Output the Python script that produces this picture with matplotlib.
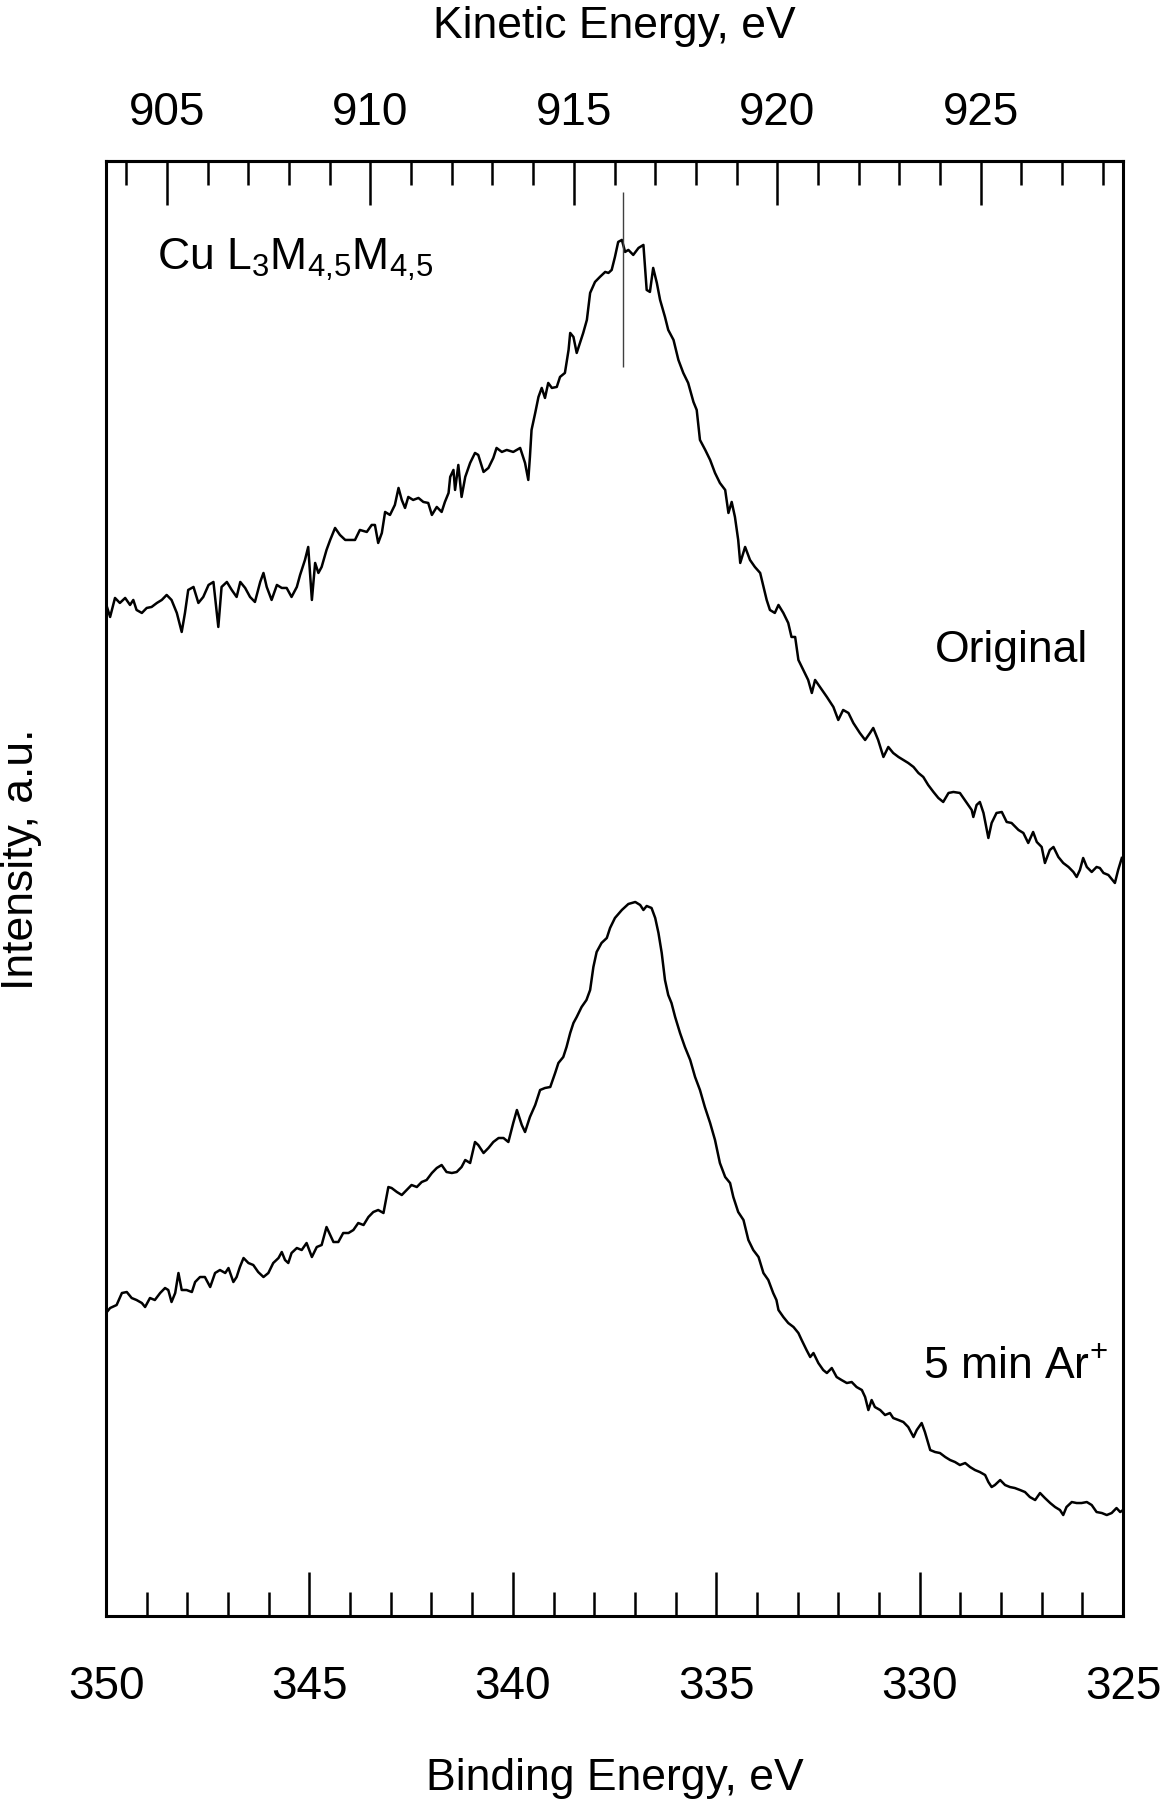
import numpy as np
import matplotlib.pyplot as plt
from matplotlib.ticker import MultipleLocator, FixedLocator

plt.rcParams.update({
    "font.family": ["Liberation Sans", "DejaVu Sans"],
    "mathtext.default": "regular",
    "font.size": 32,
})

# --- Cu L3M45M45 Auger spectra (binding energy scale, Mg Ka) ---
# original surface
be_original = [
    350.00, 349.90, 349.78, 349.66, 349.53, 349.41, 349.33, 349.25, 349.12, 349.00,
    348.88, 348.75, 348.63, 348.51, 348.39, 348.26, 348.14, 348.06, 347.98, 347.85,
    347.73, 347.61, 347.48, 347.36, 347.24, 347.16, 347.03, 346.91, 346.79, 346.70,
    346.58, 346.46, 346.34, 346.21, 346.13, 346.05, 345.93, 345.80, 345.68, 345.56,
    345.44, 345.31, 345.23, 345.11, 345.03, 344.94, 344.86, 344.78, 344.70, 344.58,
    344.49, 344.37, 344.25, 344.12, 344.00, 343.88, 343.76, 343.59, 343.47, 343.39,
    343.31, 343.22, 343.14, 343.02, 342.90, 342.81, 342.73, 342.65, 342.57, 342.45,
    342.32, 342.20, 342.08, 341.99, 341.87, 341.75, 341.67, 341.58, 341.54, 341.46,
    341.42, 341.34, 341.26, 341.17, 341.05, 340.93, 340.85, 340.72, 340.60, 340.48,
    340.40, 340.27, 340.15, 339.99, 339.82,
    339.70, 339.62, 339.58, 339.54, 339.45, 339.37, 339.29, 339.21, 339.13, 339.04,
    338.92, 338.84, 338.72, 338.63, 338.59, 338.51, 338.43, 338.35, 338.27, 338.18,
    338.10, 337.98, 337.86, 337.73, 337.65, 337.57, 337.49, 337.41, 337.32, 337.24,
    337.16, 337.04, 336.91, 336.79, 336.71, 336.63, 336.55, 336.46, 336.38, 336.26,
    336.18, 336.05, 335.93, 335.81, 335.69, 335.56, 335.48, 335.40, 335.27, 335.15,
    335.03, 334.91, 334.78, 334.70, 334.62, 334.54, 334.46, 334.41, 334.29, 334.17,
    334.05, 333.92, 333.80, 333.76,
    333.68, 333.56, 333.47, 333.35, 333.23, 333.15, 333.06, 332.98, 332.86, 332.74,
    332.65, 332.57, 332.45, 332.28, 332.12, 332.00, 331.88, 331.75, 331.63, 331.47,
    331.34, 331.22, 331.14, 331.02, 330.89, 330.77, 330.65, 330.52, 330.40, 330.28,
    330.15, 330.03, 329.91, 329.79, 329.66, 329.54, 329.42, 329.29, 329.17, 329.01,
    328.84, 328.72, 328.68, 328.60, 328.52, 328.43, 328.31, 328.23, 328.11, 327.98,
    327.86, 327.74, 327.57, 327.45, 327.33, 327.21, 327.12, 327.00, 326.92, 326.80,
    326.71, 326.59, 326.47, 326.34, 326.22, 326.14, 326.06, 325.98, 325.89, 325.77,
    325.65, 325.57, 325.48, 325.36, 325.28, 325.20, 325.12, 325.03,
]
counts_original = [
    1012, 999, 1018, 1013, 1018, 1011, 1016, 1006, 1003, 1008,
    1009, 1013, 1016, 1021, 1016, 1003, 984, 1003, 1026, 1029,
    1013, 1019, 1031, 1034, 989, 1029, 1034, 1026, 1019, 1034,
    1028, 1019, 1014, 1034, 1043, 1029, 1016, 1031, 1028, 1028,
    1019, 1029, 1041, 1056, 1069, 1016, 1053, 1043, 1049, 1066,
    1076, 1088, 1081, 1076, 1076, 1076, 1086, 1084, 1091, 1091,
    1073, 1083, 1104, 1101, 1111, 1128, 1116, 1108, 1119, 1116,
    1118, 1114, 1113, 1101, 1109, 1104, 1114, 1123, 1139, 1146,
    1126, 1151, 1119, 1139, 1153, 1163, 1161, 1144, 1148, 1158,
    1168, 1164, 1166, 1164, 1168,
    1153, 1136, 1159, 1186, 1203, 1219, 1228, 1218, 1233, 1228,
    1229, 1239, 1243, 1266, 1283, 1279, 1263, 1273, 1283, 1296,
    1323, 1334, 1339, 1344, 1343, 1346, 1359, 1374, 1376, 1364,
    1366, 1361, 1368, 1371, 1326, 1324, 1348, 1333, 1316, 1299,
    1286, 1276, 1256, 1243, 1233, 1214, 1206, 1176, 1166, 1156,
    1143, 1133, 1126, 1103, 1114, 1099, 1076, 1053, 1069, 1056,
    1049, 1043, 1023, 1016,
    1006, 1003, 1011, 1003, 993, 979, 979, 956, 946, 936,
    923, 936, 929, 919, 909, 896, 906, 903, 893, 883,
    876, 883, 888, 876, 859, 869, 863, 859, 856, 853,
    849, 843, 839, 831, 824, 818, 814, 823, 824, 823,
    813, 806, 799, 811, 814, 803, 778, 793, 803, 804,
    794, 793, 786, 783, 773, 784, 774, 769, 753, 766,
    769, 759, 753, 749, 744, 739, 746, 758, 749, 744,
    749, 748, 743, 741, 737, 733, 746, 758,
]

# after 5 min Ar+ sputtering
be_sputtered = [
    350.00, 349.90, 349.74, 349.61, 349.49, 349.37, 349.25, 349.12, 349.04, 348.92,
    348.80, 348.67, 348.55, 348.47, 348.39, 348.30, 348.22, 348.14, 348.02, 347.89,
    347.81, 347.69, 347.57, 347.44, 347.32, 347.20, 347.07, 346.99, 346.87, 346.79,
    346.71, 346.62, 346.50, 346.38, 346.26, 346.13, 346.01, 345.89, 345.76, 345.68,
    345.60, 345.52, 345.44, 345.31, 345.19, 345.07, 344.94, 344.82, 344.70, 344.58,
    344.49, 344.41, 344.29, 344.17, 344.04, 343.92, 343.80, 343.67, 343.55, 343.43,
    343.31, 343.18, 343.06, 342.98, 342.85, 342.73, 342.61, 342.49, 342.36, 342.24,
    342.12, 341.99, 341.87, 341.75, 341.63, 341.50, 341.38, 341.26, 341.17, 341.05,
    340.93, 340.85, 340.72, 340.60, 340.48, 340.35, 340.23, 340.11, 339.99, 339.90,
    339.78, 339.70, 339.58, 339.45, 339.33, 339.21, 339.08, 338.96, 338.88,
    338.76, 338.68, 338.59, 338.51, 338.43, 338.31, 338.19, 338.10, 338.02, 337.94,
    337.82, 337.69, 337.61, 337.49, 337.32, 337.16, 336.99, 336.87, 336.79, 336.71,
    336.59, 336.50, 336.42, 336.34, 336.26, 336.18, 336.10, 336.01, 335.89, 335.77,
    335.64, 335.52, 335.40, 335.28, 335.15, 335.03, 334.91, 334.78, 334.66, 334.58,
    334.46, 334.33, 334.21, 334.09, 333.96, 333.84, 333.72, 333.60, 333.52,
    333.47, 333.35, 333.23, 333.10, 332.98, 332.90, 332.78, 332.69, 332.61, 332.49,
    332.37, 332.28, 332.16, 332.04, 331.92, 331.79, 331.67, 331.55, 331.42, 331.34,
    331.26, 331.18, 331.10, 330.97, 330.85, 330.73, 330.65, 330.52, 330.40, 330.28,
    330.15, 330.07, 329.95, 329.87, 329.74, 329.62, 329.50, 329.37, 329.25, 329.13,
    329.01, 328.88, 328.76, 328.64, 328.52, 328.39, 328.31, 328.23, 328.15, 328.02,
    327.90, 327.78, 327.66, 327.53, 327.41, 327.29, 327.16, 327.04, 326.92, 326.79,
    326.67, 326.55, 326.47, 326.39, 326.26, 326.14, 326.02, 325.89, 325.77, 325.65,
    325.52, 325.40, 325.28, 325.16, 325.07, 325.00,
]
counts_sputtered = [
    303, 308, 311, 323, 324, 318, 316, 313, 309, 318,
    316, 323, 328, 326, 314, 323, 343, 326, 326, 324,
    334, 339, 339, 329, 343, 346, 343, 348, 334, 339,
    349, 358, 353, 351, 344, 339, 343, 353, 358, 364,
    356, 353, 363, 368, 366, 373, 359, 369, 371, 389,
    381, 374, 374, 383, 383, 386, 393, 391, 399, 404,
    406, 403, 429, 428, 424, 421, 426, 431, 429, 434,
    436, 443, 448, 451, 444, 443, 444, 449, 456, 453,
    474, 471, 463, 468, 474, 478, 478, 474, 493, 506,
    491, 484, 499, 511, 526, 528, 529, 543, 553,
    559, 569, 583, 593, 599, 609, 616, 626, 649, 664,
    673, 678, 688, 698, 706, 712, 714, 711, 706, 710,
    708, 698, 683, 663, 636, 621, 613, 599, 583, 569,
    556, 539, 526, 509, 493, 476, 453, 439, 433, 419,
    404, 396, 376, 366, 359, 343, 336, 323, 316,
    306, 299, 293, 289, 283, 276, 266, 259, 263, 253,
    246, 243, 248, 239, 236, 233, 234, 229, 226, 219,
    206, 216, 209, 206, 201, 203, 198, 196, 194, 189,
    179, 186, 193, 184, 166, 164, 163, 159, 156, 154,
    151, 153, 149, 146, 144, 141, 134, 129, 131, 136,
    131, 129, 128, 126, 124, 119, 116, 123, 118, 113,
    109, 106, 101, 109, 114, 113, 113, 114, 111, 104,
    103, 101, 103, 108, 104, 106,
]

# tick values of both energy scales
be_ticks = [350, 345, 340, 335, 330, 325]
ke_ticks = [905, 910, 915, 920, 925]

# peak position marker on the original spectrum
peak_be = 337.30
peak_mark = (1249, 1424)

HNU = 1253.5  # KE = hv - BE


def be_to_ke(x):
    return HNU - np.asarray(x)


fig = plt.figure(figsize=(11.64, 18.0), dpi=100)
ax = fig.add_axes([0.0911, 0.1022, 0.8737, 0.8084])

ax.plot(be_original, counts_original, color='black', linewidth=1.8)
ax.plot(be_sputtered, counts_sputtered, color='black', linewidth=1.8)
ax.vlines(peak_be, peak_mark[0], peak_mark[1], color='0.25', linewidth=1.0)

ax.set_xlim(350, 325)
ax.set_ylim(0, 1455)
ax.set_yticks([])

ax.xaxis.set_major_locator(FixedLocator(be_ticks))
ax.xaxis.set_minor_locator(MultipleLocator(1))
ax.tick_params(axis='x', which='major', direction='in', length=32, width=1.8,
               labelsize=33, pad=35)
ax.tick_params(axis='x', which='minor', direction='in', length=17, width=1.8)
for s in ax.spines.values():
    s.set_linewidth(2.2)

# kinetic energy scale on top
sec = ax.secondary_xaxis('top', functions=(be_to_ke, be_to_ke))
sec.xaxis.set_major_locator(FixedLocator(ke_ticks))
sec.xaxis.set_minor_locator(MultipleLocator(1))
sec.tick_params(axis='x', which='major', direction='in', length=32, width=1.8,
                labelsize=33, pad=19)
sec.tick_params(axis='x', which='minor', direction='in', length=17, width=1.8)
sec.spines['top'].set_linewidth(2.2)
sec.set_xlabel('Kinetic Energy, eV', fontsize=32, labelpad=38)

ax.set_xlabel('Binding Energy, eV', fontsize=32, va='center')
ax.xaxis.set_label_coords(0.5, -0.1115)
ax.set_ylabel('Intensity, a.u.', fontsize=32, va='center')
ax.yaxis.set_label_coords(-0.0836, 0.520)

# labels
ax.text(348.75, 1346, r'Cu L$_3$M$_{4{,}5}$M$_{4{,}5}$', fontsize=32,
        ha='left', va='baseline')
ax.text(325.86, 954, 'Original', fontsize=32, ha='right', va='baseline')
ax.text(329.92, 238, r'5 min Ar$^{+}$', fontsize=32, ha='left', va='baseline')

fig.savefig('out.png', dpi=100)
